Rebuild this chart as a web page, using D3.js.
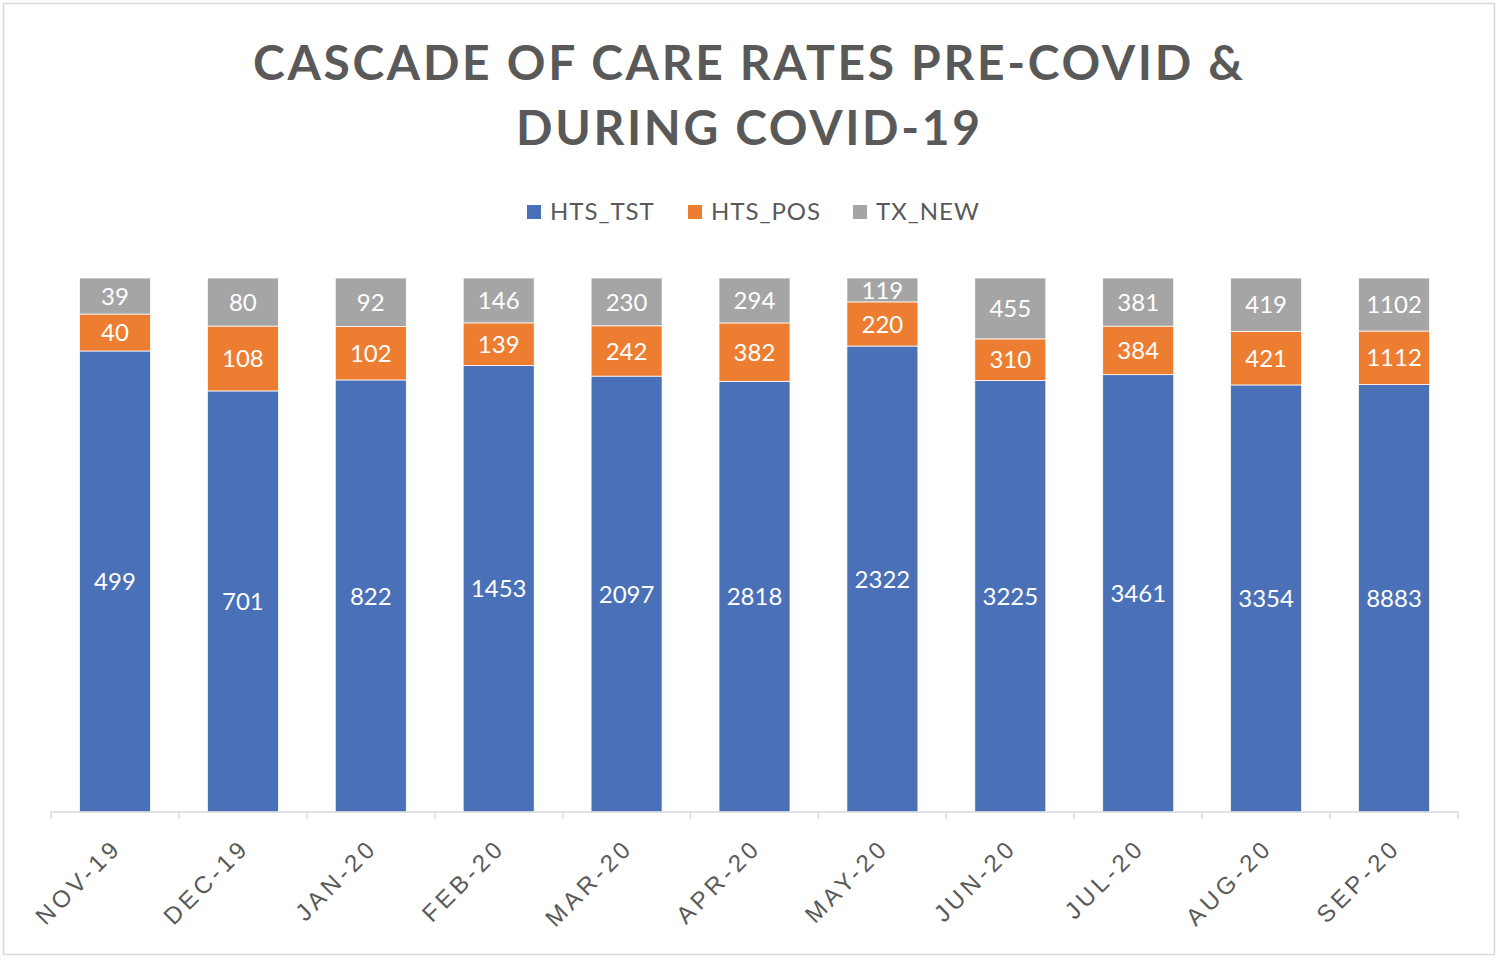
<!DOCTYPE html>
<html>
<head>
<meta charset="utf-8">
<script src="https://cdn.jsdelivr.net/npm/d3@7"></script>
<style>
  body { margin: 0; background: #fff; }
  svg { display: block; font-family: Lato, "Open Sans", sans-serif; }
</style>
</head>
<body>
<svg width="1500" height="961"></svg>
<script>
// данные графика
const months = ["NOV-19", "DEC-19", "JAN-20", "FEB-20", "MAR-20", "APR-20", "MAY-20", "JUN-20", "JUL-20", "AUG-20", "SEP-20"];
const htsTst = [499, 701, 822, 1453, 2097, 2818, 2322, 3225, 3461, 3354, 8883];
const htsPos = [40, 108, 102, 139, 242, 382, 220, 310, 384, 421, 1112];
const txNew = [39, 80, 92, 146, 230, 294, 119, 455, 381, 419, 1102];
const seriesNames = ["HTS_TST", "HTS_POS", "TX_NEW"];
const colors = ["#4A70B7", "#ED7D31", "#A5A5A5"];

const svg = d3.select("svg");
const width = +svg.attr("width");

// рамка вокруг диаграммы
svg.append("rect")
    .attr("x", 3.5).attr("y", 3.5)
    .attr("width", 1491).attr("height", 951)
    .attr("fill", "#fff")
    .attr("stroke", "#d9d9d9")
    .attr("stroke-width", 1.5);

// заголовок в две строки
const title = svg.append("g")
    .attr("fill", "#595959")
    .attr("font-weight", "bold")
    .attr("font-size", 48)
    .attr("text-anchor", "middle");
title.append("text")
    .attr("x", 748).attr("y", 80)
    .attr("textLength", 990).attr("lengthAdjust", "spacing")
    .text("CASCADE OF CARE RATES PRE-COVID &");
title.append("text")
    .attr("x", 748).attr("y", 145)
    .attr("textLength", 464).attr("lengthAdjust", "spacing")
    .text("DURING COVID-19");

// строим таблицу для стека (доли от суммы)
const table = months.map((m, i) => ({
    month: m,
    HTS_TST: htsTst[i],
    HTS_POS: htsPos[i],
    TX_NEW: txNew[i]
}));

const stack = d3.stack()
    .keys(seriesNames)
    .offset(d3.stackOffsetExpand);
const layers = stack(table);

const margin = { left: 51, right: 42, top: 278, bottom: 149 };
const x = d3.scaleBand()
    .domain(months)
    .range([margin.left, width - margin.right])
    .paddingInner(0.445)
    .paddingOuter(0.2225);
const y = d3.scaleLinear()
    .domain([0, 1])
    .range([812, margin.top]);

const color = d3.scaleOrdinal().domain(seriesNames).range(colors);

// столбцы
const groups = svg.append("g")
    .selectAll("g")
    .data(layers)
    .join("g")
    .attr("fill", d => color(d.key));

groups.selectAll("rect")
    .data(d => d)
    .join("rect")
    .attr("x", d => x(d.data.month))
    .attr("y", d => y(d[1]))
    .attr("width", x.bandwidth())
    .attr("height", d => y(d[0]) - y(d[1]))
    .attr("stroke", "#fff")
    .attr("stroke-width", 0.75);

// подписи значений
groups.selectAll("text")
    .data(d => d.map(v => ({ v, key: d.key })))
    .join("text")
    .attr("x", d => x(d.v.data.month) + x.bandwidth() / 2)
    .attr("y", d => (y(d.v[0]) + y(d.v[1])) / 2)
    .attr("dy", "0.36em")
    .attr("text-anchor", "middle")
    .attr("fill", "#fff")
    .attr("font-size", 24)
    .text(d => d.v.data[d.key]);

// ось X
const xAxis = d3.axisBottom(x)
    .tickSize(0)
    .tickFormat("");
const axisG = svg.append("g")
    .attr("transform", "translate(0,812)")
    .call(xAxis);
axisG.select(".domain")
    .attr("stroke", "#d9d9d9")
    .attr("stroke-width", 1.5)
    .attr("d", `M${margin.left},0H${width - margin.right}`);

// засечки между категориями
const tickPos = d3.range(months.length + 1).map(i => margin.left + i * (width - margin.left - margin.right) / months.length);
axisG.selectAll(".sep")
    .data(tickPos)
    .join("line")
    .attr("class", "sep")
    .attr("x1", d => d).attr("x2", d => d)
    .attr("y1", 0).attr("y2", 7)
    .attr("stroke", "#d9d9d9")
    .attr("stroke-width", 1.5);

// подписи категорий под углом
axisG.selectAll(".lbl")
    .data(months)
    .join("text")
    .attr("class", "lbl")
    .attr("transform", d => `translate(${x(d) + x.bandwidth() / 2 + 2},31) rotate(-45)`)
    .attr("text-anchor", "end")
    .attr("dy", "0.35em")
    .attr("fill", "#595959")
    .attr("font-size", 24)
    .attr("letter-spacing", 4)
    .text(d => d);

// легенда
const legendX = [527, 688, 853];
const legend = svg.append("g")
    .selectAll("g")
    .data(seriesNames)
    .join("g")
    .attr("transform", (d, i) => `translate(${legendX[i]},212)`);
legend.append("rect")
    .attr("x", 0).attr("y", -7)
    .attr("width", 14).attr("height", 14)
    .attr("fill", d => color(d));
legend.append("text")
    .attr("x", 23)
    .attr("dy", "0.35em")
    .attr("fill", "#595959")
    .attr("font-size", 24)
    .attr("letter-spacing", 1)
    .text(d => d);
</script>
</body>
</html>
